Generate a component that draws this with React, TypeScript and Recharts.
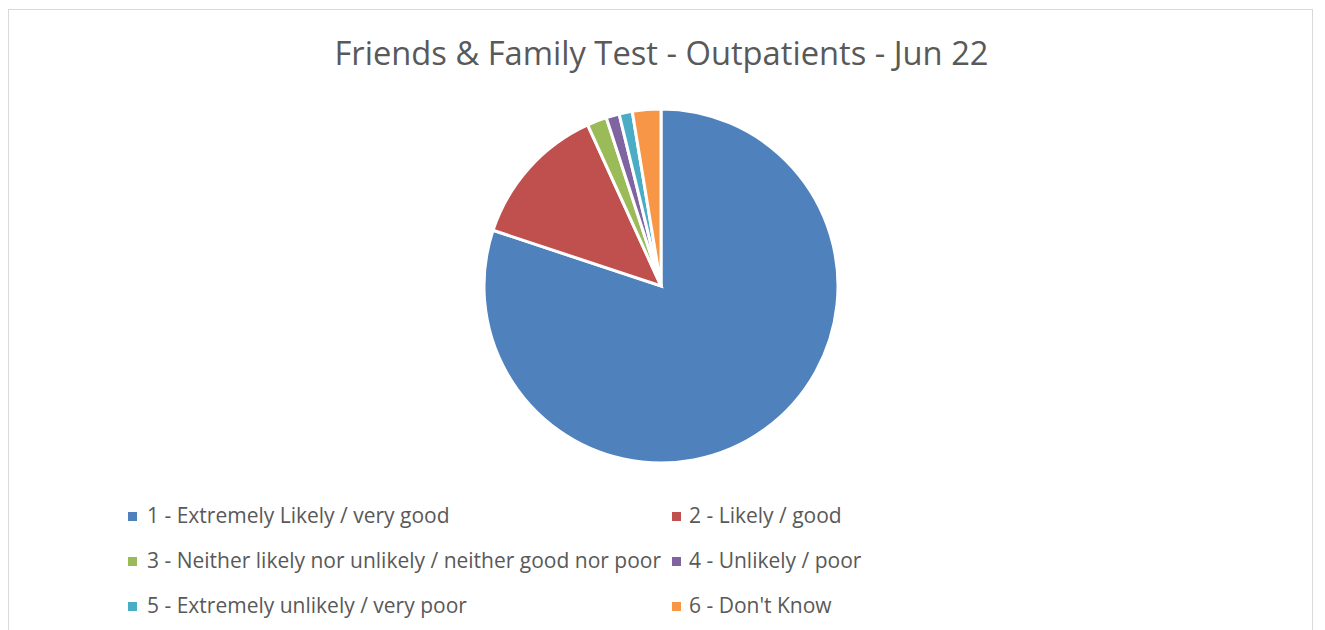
import React from "react";
import { PieChart, Pie, Cell } from "recharts";

const categories = [
  "1 - Extremely Likely / very good",
  "2 - Likely / good",
  "3 - Neither likely nor unlikely / neither good nor poor",
  "4 - Unlikely / poor",
  "5 - Extremely unlikely / very poor",
  "6 - Don't Know",
];
const values = [80.1, 13.1, 1.8, 1.2, 1.2, 2.6];
const colors = ["#4F81BD", "#C0504D", "#9BBB59", "#8064A2", "#4BACC6", "#F79646"];
const title = "Friends & Family Test - Outpatients - Jun 22";

const data = categories.map((name, i) => ({ name, value: values[i] }));

const FONT = "'Open Sans', 'Noto Sans', sans-serif";

export default function App() {
  return (
    <div style={{ position: "absolute", left: 0, top: 0, width: 1325, height: 630, background: "#fff", fontFamily: FONT }}>
      <div
        style={{
          position: "absolute",
          left: 8,
          top: 9,
          width: 1305,
          height: 640,
          border: "1px solid #d9d9d9",
          boxSizing: "border-box",
        }}
      />
      <div
        style={{
          position: "absolute",
          left: 0,
          width: 1325,
          top: 31,
          textAlign: "center",
          fontSize: 32.7,
          color: "#595959",
          lineHeight: "44px",
          marginLeft: -1,
          whiteSpace: "nowrap",
        }}
      >
        {title}
      </div>
      <div style={{ position: "absolute", left: 0, top: 0 }}>
        <PieChart width={1325} height={630} margin={{ top: 0, right: 0, bottom: 0, left: 0 }}>
          <Pie
            data={data}
            dataKey="value"
            nameKey="name"
            cx={661}
            cy={286}
            outerRadius={177}
            startAngle={90}
            endAngle={-270}
            stroke="#ffffff"
            strokeWidth={3}
            isAnimationActive={false}
          >
            {data.map((d, i) => (
              <Cell key={d.name} fill={colors[i]} />
            ))}
          </Pie>
        </PieChart>
      </div>
      {categories.map((name, i) => {
        const col = i % 2;
        const row = Math.floor(i / 2);
        const left = col === 0 ? 128 : 672;
        const center = 515 + row * 45;
        return (
          <div
            key={name}
            style={{
              position: "absolute",
              left,
              top: center - 15,
              height: 30,
              display: "flex",
              alignItems: "center",
              whiteSpace: "nowrap",
              fontSize: 21,
              color: "#595959",
            }}
          >
            <span style={{ display: "inline-block", width: 9, height: 9, background: colors[i], marginRight: col === 0 ? 10 : 8, marginTop: 2 }} />
            <span>{name}</span>
          </div>
        );
      })}
    </div>
  );
}
